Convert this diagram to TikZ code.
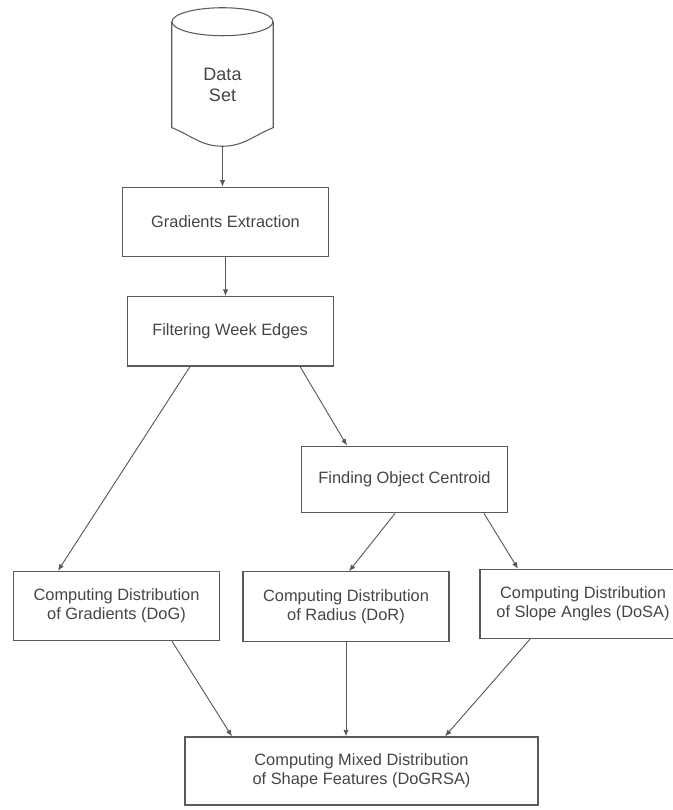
\documentclass[tikz,border=0pt]{standalone}
\usepackage{fontspec}
\setmainfont{Liberation Sans}
\usetikzlibrary{arrows.meta}
\definecolor{linegray}{HTML}{5A5A5A}
\definecolor{textgray}{HTML}{454545}

\begin{document}
\begin{tikzpicture}[x=0.75pt, y=-0.75pt, node distance=82pt,
    box/.style={draw=linegray, line width=0.8pt, rectangle, minimum width=154.5pt, minimum height=52pt, inner sep=0pt, align=center, text=textgray, font=\fontsize{12.3}{14.5}\selectfont},
    store/.style={rectangle, minimum width=75.75pt, minimum height=103.5pt, inner sep=0pt},
    storetext/.style={align=center, text=textgray, font=\fontsize{13.5}{15.5}\selectfont, yshift=-6pt},
    outline/.style={draw=linegray, line width=0.8pt},
    arrow/.style={draw=linegray, line width=0.7pt, -{Latex[length=5pt,width=4pt]}}]
    \useasboundingbox (0,0) rectangle (673,810);

    % Nodes
    \node [store, label={[storetext]center:Data\\Set}] (data) at (222.5,77) {};
    \node [box] (grad) at (225.5,222) {Gradients Extraction};
    \node [box, below of=grad, xshift=3.4pt] (filter) {Filtering Week Edges};
    \node [box, minimum height=50pt] (find) at (404.5,479.5) {Finding Object Centroid};
    \node [box] (dog) at (116.5,606) {Computing Distribution\\of Gradients (DoG)};
    \node [box] (dor) at (346,606.5) {Computing Distribution\\of Radius (DoR)};
    \node [box] (dosa) at (583,604) {Computing Distribution\\of Slope Angles (DoSA)};
    \node [box, minimum width=264.75pt, minimum height=51pt] (mixed) at (361.5,771) {Computing Mixed Distribution\\of Shape Features (DoGRSA)};

    % Data set outline
    \draw [outline] ([yshift=-10.5pt]data.north) ellipse [x radius=37.875pt, y radius=10.5pt];
    \draw [outline] ([yshift=-10.5pt]data.north west) -- ([yshift=14pt]data.south west)
        to[out=-22, in=180] (data.south) to[out=0, in=-158] ([yshift=14pt]data.south east)
        -- ([yshift=-10.5pt]data.north east);

    % Arrows
    \draw [arrow] (data.south) -- (data.south |- grad.north);
    \draw [arrow] (grad.south) -- (grad.south |- filter.north);
    \draw [arrow] ([xshift=-30pt]filter.south) -- ([xshift=-43.9pt]dog.north);
    \draw [arrow] ([xshift=52.5pt]filter.south) -- ([xshift=-43.1pt]find.north);
    \draw [arrow] ([xshift=-7.1pt]find.south) -- ([xshift=2.25pt]dor.north);
    \draw [arrow] ([xshift=59.6pt]find.south) -- ([xshift=-48.75pt]dosa.north);
    \draw [arrow] ([xshift=41.6pt]dog.south) -- ([xshift=-97.1pt]mixed.north);
    \draw [arrow] (dor.south) -- (dor.south |- mixed.north);
    \draw [arrow] ([xshift=-39.75pt]dosa.south) -- ([xshift=62.6pt]mixed.north);
\end{tikzpicture}
\end{document}
